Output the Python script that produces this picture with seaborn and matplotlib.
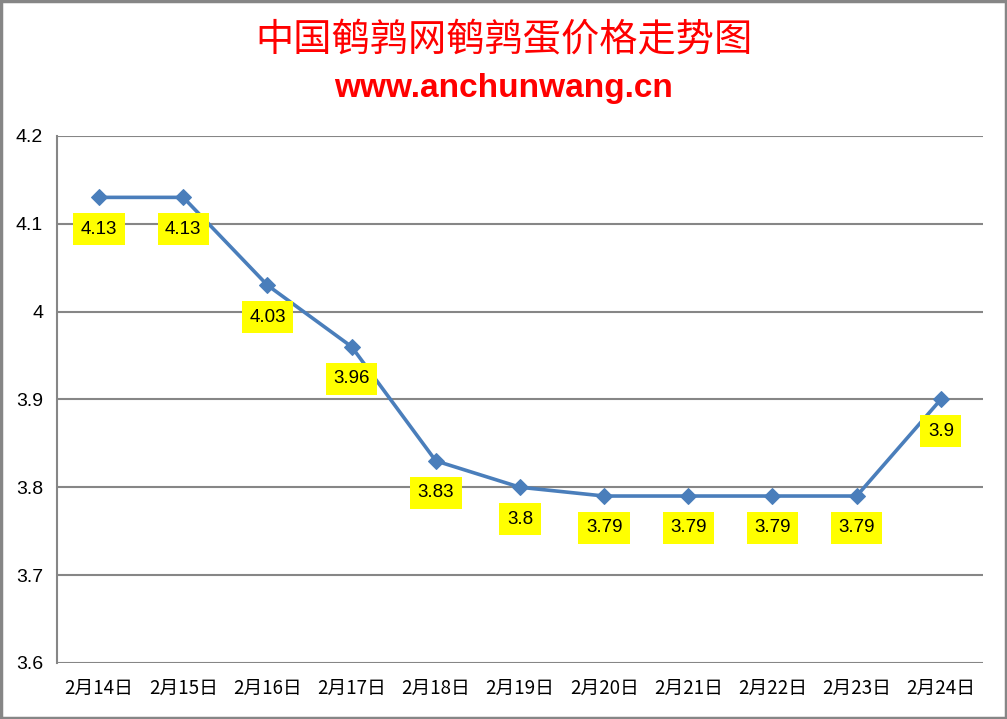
import matplotlib
matplotlib.use("Agg")
import matplotlib.pyplot as plt
import seaborn as sns
import pandas as pd

# data
dates = ["2月14日", "2月15日", "2月16日", "2月17日", "2月18日", "2月19日",
         "2月20日", "2月21日", "2月22日", "2月23日", "2月24日"]
prices = [4.13, 4.13, 4.03, 3.96, 3.83, 3.8, 3.79, 3.79, 3.79, 3.79, 3.9]
label_texts = ["4.13", "4.13", "4.03", "3.96", "3.83", "3.8",
               "3.79", "3.79", "3.79", "3.79", "3.9"]
y_ticks = [3.6, 3.7, 3.8, 3.9, 4.0, 4.1, 4.2]
y_tick_labels = ["3.6", "3.7", "3.8", "3.9", "4", "4.1", "4.2"]

sns.set_style("white")
plt.rcParams['font.family'] = ['Noto Sans CJK SC', 'DejaVu Sans']

df = pd.DataFrame({"date": dates, "price": prices, "pos": range(len(dates))})

fig = plt.figure(figsize=(10.07, 7.19), dpi=100)
ax = fig.add_axes([0.0566, 0.078, 0.9195, 0.733])

grid_col = "#868686"
for y in y_ticks:
    ax.axhline(y, color=grid_col, lw=1.5, zorder=1)

sns.lineplot(data=df, x="pos", y="price", ax=ax, color="#4a7ebb", lw=2.6,
             marker="D", markersize=8, markeredgecolor="#4a7ebb", zorder=3)

for i, (p, t) in enumerate(zip(prices, label_texts)):
    ax.annotate(t, (i, p), xytext=(0, -23), textcoords="offset points",
                ha="center", va="center", fontsize=13.5, color="black",
                family=['Liberation Sans Narrow', 'Liberation Sans'],
                bbox=dict(boxstyle="square,pad=0.4", fc="#ffff00", ec="none"),
                zorder=4)

ax.set_xlim(-0.5, len(dates) - 0.5)
ax.set_ylim(3.6, 4.2)
ax.set_xticks(range(len(dates)))
ax.set_xticklabels(dates, fontsize=13.5, color="black")
ax.set_yticks(y_ticks)
ax.set_yticklabels(y_tick_labels, fontsize=14, color="black", family=['Liberation Sans'])
ax.tick_params(axis="both", length=0)
ax.tick_params(axis="x", pad=11)
ax.tick_params(axis="y", pad=10)
ax.set_xlabel("")
ax.set_ylabel("")
for s in ["top", "right", "bottom"]:
    ax.spines[s].set_visible(False)
ax.spines["left"].set_color(grid_col)
ax.spines["left"].set_linewidth(1.5)

fig.text(0.5, 0.944, "中国鹌鹑网鹌鹑蛋价格走势图", color="#ff0000", fontsize=27.5,
         ha="center", va="center")
fig.text(0.5, 0.877, "www.anchunwang.cn", color="#ff0000", fontsize=24,
         fontweight="bold", ha="center", va="center", family=['Liberation Sans'])

# outer border
fig.patches.append(plt.Rectangle((0.001, 0.001), 0.998, 0.998, transform=fig.transFigure,
                                 fill=False, ec="#868686", lw=2.5))

fig.savefig("out.png", dpi=100)
